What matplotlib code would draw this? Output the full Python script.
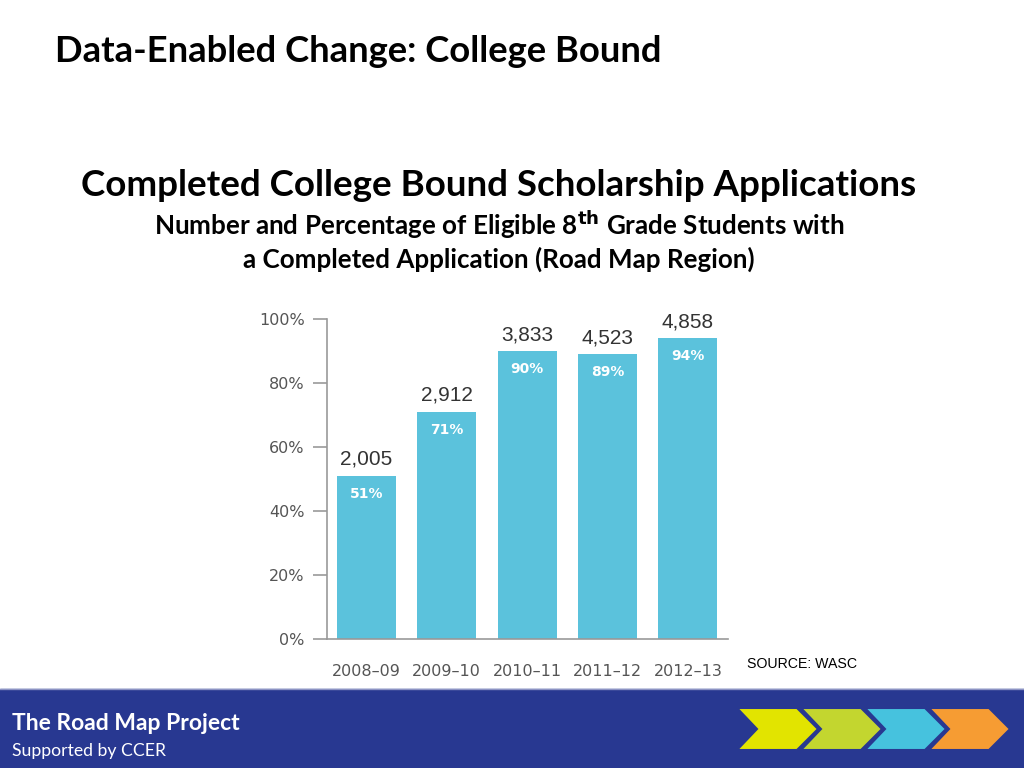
import matplotlib

matplotlib.use('Agg')
import matplotlib.pyplot as plt
from matplotlib.patches import Polygon, Rectangle

# chart data
years = ['2008\u201309', '2009\u201310', '2010\u201311', '2011\u201312', '2012\u201313']
pct = [51, 71, 90, 89, 94]
counts = ['2,005', '2,912', '3,833', '4,523', '4,858']
yticks = [0, 20, 40, 60, 80, 100]

chevron_colors = ['#E2E400', '#C3D62F', '#46C2DE', '#F69C33']

BAR = '#5BC2DC'
NAVY = '#283891'
GREY = '#555555'

fig = plt.figure(figsize=(10.24, 7.68), dpi=100)
title_font = ['Lato', 'DejaVu Sans']

# slide titles
fig.text(55 / 1024, 1 - 52 / 768, 'Data-Enabled Change: College Bound', fontsize=26.2,
         fontweight='bold', family=title_font, va='center', ha='left')
fig.text(499 / 1024, 1 - 185 / 768, 'Completed College Bound Scholarship Applications',
         fontsize=26.5, fontweight='bold', family=title_font, ha='center', va='center')
fig.text(499 / 1024, 1 - 225 / 768,
         r'Number and Percentage of Eligible 8$^{\mathbf{th}}$ Grade Students with',
         fontsize=18.7, fontweight='bold', family=title_font, ha='center', va='center')
fig.text(499 / 1024, 1 - 259 / 768, 'a Completed Application (Road Map Region)',
         fontsize=18.7, fontweight='bold', family=title_font, ha='center', va='center')

# bar chart
ax = fig.add_axes([327 / 1024, 1 - 639 / 768, (728 - 327) / 1024, (639 - 319) / 768])
x = list(range(len(years)))
ax.bar(x, pct, width=0.735, color=BAR, zorder=2)
ax.set_xlim(-0.49, 4.5)
ax.set_ylim(0, 100)
ax.set_yticks(yticks)
ax.set_yticklabels([f'{v}%' for v in yticks], fontsize=11.5, color=GREY)
ax.set_xticks(x)
ax.set_xticklabels(years, fontsize=11.5, color=GREY)
ax.tick_params(axis='y', length=10, color='#999999', width=1.2, pad=6)
ax.tick_params(axis='x', length=0, pad=18)
for s in ['top', 'right']:
    ax.spines[s].set_visible(False)
for s in ['left', 'bottom']:
    ax.spines[s].set_color('#999999')
    ax.spines[s].set_linewidth(1.2)

for xi, p, c in zip(x, pct, counts):
    ax.annotate(c, (xi, p), xytext=(0, 5), textcoords='offset points', ha='center',
                va='bottom', fontsize=15, color='#333333',
                family=['Liberation Sans', 'DejaVu Sans'])
    ax.annotate(f'{p}%', (xi, p), xytext=(0, -8), textcoords='offset points', ha='center',
                va='top', fontsize=10, color='white', fontweight='bold')

fig.text(747 / 1024, 1 - 664 / 768, 'SOURCE: WASC', fontsize=10.2, color='black',
         family=['Liberation Sans', 'DejaVu Sans'], va='center')

# footer band
deco = fig.add_axes([0, 0, 1, 1])
deco.set_xlim(0, 1024)
deco.set_ylim(768, 0)
deco.axis('off')
deco.patch.set_alpha(0)
deco.add_patch(Rectangle((0, 689), 1024, 79, color=NAVY))
deco.plot([0, 1024], [689, 689], color='#8c93c4', lw=1)
deco.text(12, 723, 'The Road Map Project', fontsize=16.5, fontweight='bold', color='white',
          family=title_font, va='center')
deco.text(12, 751, 'Supported by CCER', fontsize=12.7, color='white', family=title_font,
          va='center')

top, bot = 708, 750
mid = (top + bot) / 2
for i, col in enumerate(chevron_colors):
    x0 = 737 + 64 * i
    pts = [(x0, top), (x0 + 60, top), (x0 + 81, mid), (x0 + 60, bot), (x0, bot), (x0 + 20, mid)]
    deco.add_patch(Polygon(pts, closed=True, facecolor=col, edgecolor=NAVY, lw=1.5))

fig.savefig('out.png', dpi=100)
